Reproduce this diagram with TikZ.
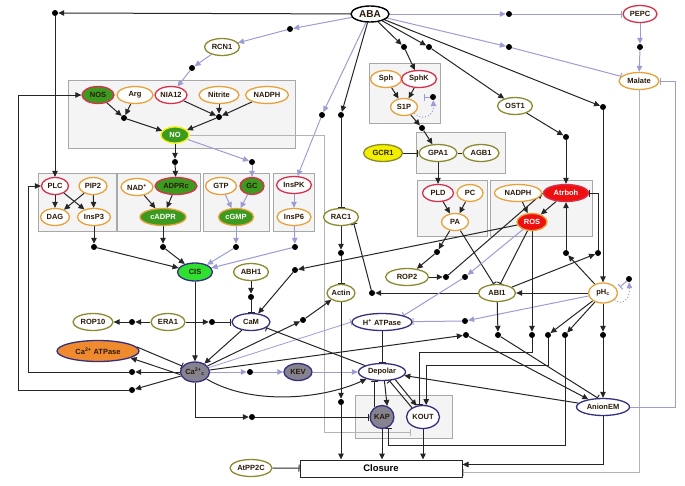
\documentclass[tikz,border=0pt]{standalone}
\usepackage{amsmath}
\usepackage{fontspec}
\setsansfont{Liberation Sans}
\usetikzlibrary{arrows.meta,shapes.geometric,calc}

\definecolor{olvc}{HTML}{8C8A2E}
\definecolor{orgc}{HTML}{E5A23A}
\definecolor{rddc}{HTML}{D8304A}
\definecolor{navc}{HTML}{35307E}
\definecolor{grnc}{HTML}{3C9A1E}
\definecolor{limc}{HTML}{30E030}
\definecolor{firec}{HTML}{EE1010}
\definecolor{gryf}{HTML}{85838F}
\definecolor{ambc}{HTML}{F08A2E}
\definecolor{yelc}{HTML}{F2EE00}
\definecolor{linc}{HTML}{252525}
\definecolor{lavc}{HTML}{9C9CD4}
\definecolor{gryc}{HTML}{B4B4B4}
\definecolor{boxc}{HTML}{A8A8A8}
\definecolor{boxf}{HTML}{F4F4F4}
\definecolor{labc}{HTML}{2A1A08}

\pgfdeclarelayer{back}
\pgfdeclarelayer{mid}
\pgfsetlayers{back,mid,main}

\tikzset{
  gene/.style={ellipse, draw=#1, line width=1.3pt, fill=white, text=labc,
    inner sep=0.5pt, minimum width=32pt, minimum height=17pt},
  olv/.style={gene=olvc},
  org/.style={gene=orgc},
  rdd/.style={gene=rddc},
  nav/.style={gene=navc},
  dot/.style={circle, fill=black, inner sep=0pt, minimum size=6pt},
  act/.style={draw=linc, line width=1pt, -{Triangle[length=6pt,width=5.5pt]}},
  inh/.style={draw=linc, line width=1pt, -{Bar[width=7pt]}},
  lact/.style={draw=lavc, line width=1pt, -{Triangle[length=6pt,width=5.5pt]}},
  linh/.style={draw=lavc, line width=1pt, -{Bar[width=7pt]}},
  ginh/.style={draw=gryc, line width=0.8pt, -{Bar[width=7pt]}},
  grp/.style={draw=boxc, fill=boxf, line width=0.8pt},
}

\begin{document}
\begin{tikzpicture}[x=1pt, y=-1pt,
  every node/.style={font=\sffamily\bfseries\fontsize{7.5}{8}\selectfont}]
\useasboundingbox (0,0) rectangle (685,485);

\begin{pgfonlayer}{back}
  \draw[grp] (68,80) rectangle (295,148);
  \draw[grp] (369,63) rectangle (440,123);
  \draw[grp] (416,132) rectangle (505,173);
  \draw[grp] (38,173) rectangle (116,231);
  \draw[grp] (117,173) rectangle (200,231);
  \draw[grp] (203,173) rectangle (269,231);
  \draw[grp] (273,173) rectangle (314,231);
  \draw[grp] (417,180) rectangle (487,236);
  \draw[grp] (490,180) rectangle (592,236);
  \draw[grp] (355,395) rectangle (452,438);
\end{pgfonlayer}

\node[gene=black, line width=1.4pt, minimum width=38pt, minimum height=16pt,
  font=\sffamily\bfseries\fontsize{10}{11}\selectfont] (ABA) at (370,14) {ABA};
\node[rdd, minimum width=34pt] (PEPC) at (640,14) {PEPC};
\node[org, minimum width=40pt] (Malate) at (639,81) {Malate};
\node[olv, minimum width=35pt] (RCN1) at (222,47) {RCN1};
\node[rdd, fill=grnc, minimum width=32pt] (NOS) at (98,95) {NOS};
\node[org, minimum width=36pt] (Arg) at (135,95) {Arg};
\node[rdd, minimum width=32pt] (NIA12) at (171,95) {NIA12};
\node[org, minimum width=40pt] (Nitrite) at (219,95) {Nitrite};
\node[org, minimum width=43pt] (NADPHa) at (267,95) {NADPH};
\node[gene=yelc, fill=grnc, text=white, minimum width=28pt, minimum height=16pt] (NO) at (175,135) {NO};
\node[org, minimum width=31pt] (Sph) at (386,79) {Sph};
\node[rdd, minimum width=35pt] (SphK) at (419,79) {SphK};
\node[org, minimum width=27pt] (S1P) at (404,107) {S1P};
\node[olv, minimum width=35pt] (OST1) at (515,106) {OST1};
\node[gene=olvc, fill=yelc, minimum width=39pt] (GCR1) at (383,153) {GCR1};
\node[olv, minimum width=38pt] (GPA1) at (438,153) {GPA1};
\node[olv, minimum width=36pt] (AGB1) at (481,153) {AGB1};
\node[rdd, minimum width=27pt] (PLC) at (55,186) {PLC};
\node[org, minimum width=28pt] (PIP2) at (93,186) {PIP2};
\node[org, minimum width=29pt] (DAG) at (55,217) {DAG};
\node[org, minimum width=33pt] (InsP3) at (94,217) {InsP3};
\node[org, minimum width=32pt] (NADp) at (137,187) {NAD\textsuperscript{+}};
\node[rdd, fill=grnc, minimum width=42pt] (ADPRc) at (176,186) {ADPRc};
\node[gene=orgc, fill=grnc, text=white, minimum width=46pt] (cADPR) at (163,217) {cADPR};
\node[org, minimum width=31pt] (GTP) at (221,186) {GTP};
\node[rdd, fill=grnc, minimum width=24pt] (GC) at (252,186) {GC};
\node[gene=orgc, fill=grnc, text=white, minimum width=35pt] (cGMP) at (236,217) {cGMP};
\node[rdd, minimum width=35pt] (InsPK) at (294,185) {InsPK};
\node[org, minimum width=34pt] (InsP6) at (294,217) {InsP6};
\node[olv, minimum width=35pt] (RAC1) at (341,217) {RAC1};
\node[rdd, minimum width=31pt] (PLD) at (438,193) {PLD};
\node[org, minimum width=26pt] (PC) at (470,193) {PC};
\node[org, minimum width=27pt] (PA) at (455,222) {PA};
\node[org, minimum width=47pt] (NADPHb) at (518,193) {NADPH};
\node[gene=rddc, fill=firec, text=white, minimum width=45pt] (Atrboh) at (566,193) {Atrboh};
\node[gene=orgc, fill=firec, text=white, minimum width=30pt] (ROS) at (532,222) {ROS};
\node[gene=navc, fill=limc, minimum width=35pt, minimum height=18pt] (CIS) at (195,272) {CIS};
\node[olv, minimum width=35pt] (ABH1) at (251,272) {ABH1};
\node[olv, minimum width=27pt] (Actin) at (341,293) {Actin};
\node[olv, minimum width=43pt] (ROP2) at (407,277) {ROP2};
\node[olv, minimum width=37pt] (ABI1) at (497,293) {ABI1};
\node[org, minimum width=29pt, minimum height=20pt] (pHc) at (603,293) {pH\textsubscript{c}};
\node[olv, minimum width=40pt] (ROP10) at (93,322) {ROP10};
\node[olv, minimum width=34pt] (ERA1) at (168,322) {ERA1};
\node[nav, minimum width=38pt] (CaM) at (251,322) {CaM};
\node[nav, minimum width=60pt] (HATP) at (382,322) {H\textsuperscript{+} ATPase};
\node[gene=navc, fill=ambc, minimum width=82pt, minimum height=21pt] (CaATP) at (98,351) {Ca\textsuperscript{2+} ATPase};
\node[gene=navc, fill=gryf, minimum width=29pt, minimum height=20pt] (Ca) at (195,372) {Ca\textsuperscript{2+}\textsubscript{c}};
\node[gene=navc, fill=gryf, minimum width=28pt] (KEV) at (298,372) {KEV};
\node[nav, minimum width=47pt] (Depolar) at (382,372) {Depolar};
\node[gene=navc, fill=gryf, minimum width=22pt, minimum height=23pt] (KAP) at (382,417) {KAP};
\node[nav, minimum width=33pt, minimum height=23pt] (KOUT) at (423,417) {KOUT};
\node[nav, minimum width=53pt] (AnionEM) at (603,407) {AnionEM};
\node[olv, minimum width=42pt] (AtPP2C) at (251,468) {AtPP2C};
\node[draw=linc, line width=1pt, minimum width=162pt, minimum height=17pt, inner sep=0pt,
  font=\sffamily\bfseries\fontsize{9.5}{10}\selectfont] (Closure) at (381,468.5) {Closure};

\node[dot] (d1) at (55,13) {};
\node[dot] (d2) at (290,29) {};
\node[dot] (d3) at (192,68) {};
\node[dot] (d4) at (322,115) {};
\node[dot] (d5) at (341,115) {};
\node[dot] (d6) at (404,47) {};
\node[dot] (d7) at (429,47) {};
\node[dot] (d8) at (603,107) {};
\node[dot] (d9) at (509,14) {};
\node[dot] (d10) at (509,47) {};
\node[dot] (d11) at (640,47) {};
\node[dot] (d12) at (566,137) {};
\node[dot] (d13) at (124,118) {};
\node[dot] (d14) at (219,117) {};
\node[dot] (d15) at (175,162) {};
\node[dot] (d16) at (252,162) {};
\node[dot] (d17) at (422,128) {};
\node[dot] (d18) at (433,97) {};
\node[dot] (d19) at (94,247) {};
\node[dot] (d20) at (163,247) {};
\node[dot] (d21) at (236,247) {};
\node[dot] (d22) at (295,247) {};
\node[dot] (d23) at (437,252) {};
\node[dot] (d24) at (446,277) {};
\node[dot] (d25) at (295,270) {};
\node[dot] (d26) at (341,253) {};
\node[dot] (d27) at (372,293) {};
\node[dot] (d28) at (465,277) {};
\node[dot] (d29) at (465,321) {};
\node[dot] (d30) at (566,253) {};
\node[dot] (d31) at (598,253) {};
\node[dot] (d32) at (251,297) {};
\node[dot] (d33) at (132,322) {};
\node[dot] (d34) at (212,322) {};
\node[dot] (d35) at (303,320) {};
\node[dot] (d36) at (466,335) {};
\node[dot] (d37) at (132,372) {};
\node[dot] (d38) at (132,390) {};
\node[dot] (d39) at (250,372) {};
\node[dot] (d40) at (252,417) {};
\node[dot] (d41) at (341,402) {};
\node[dot] (d42) at (498,335) {};
\node[dot] (d43) at (532,335) {};
\node[dot] (d44) at (548,335) {};
\node[dot] (d45) at (565,335) {};
\node[dot] (d46) at (603,335) {};
\node[dot] (d47) at (629,279) {};

\coordinate (gNO) at (324,432);
\coordinate (lx1) at (28,0);
\coordinate (lx2) at (18,0);
\coordinate (lvA) at (0,352);
\coordinate (lvB) at (0,365);
\coordinate (lvC) at (0,445);
\coordinate (rx) at (675,81);
\coordinate (cl1) at ($(Closure.east)+(0,-4)$);
\coordinate (cl2) at ($(Closure.east)+(0,4)$);
\coordinate (s1pbar) at (424,97);
\coordinate (phbar) at (620,287);

\begin{pgfonlayer}{mid}
  \draw[act] (ABA) -- (d1);
  \draw[act] (d1) -- (PLC);
  \draw[lact] (ABA) -- (d2);
  \draw[lact] (d2) -- (RCN1);
  \draw[lact] (RCN1) -- (d3);
  \draw[lact] (d3) -- (NIA12);
  \draw[lact] (ABA) -- (d4);
  \draw[lact] (d4) -- (InsPK);
  \draw[act] (ABA) -- (d5);
  \draw[inh] (d5) -- (RAC1);
  \draw[act] (ABA) -- (d6);
  \draw[act] (d6) -- (SphK);
  \draw[act] (ABA) -- (d7);
  \draw[act] (d7) -- (OST1);
  \draw[act] (ABA) -- (d8);
  \draw[act] (d8) -- (pHc);
  \draw[lact] (ABA) -- (d9);
  \draw[linh] (d9) -- (PEPC);
  \draw[lact] (ABA) -- (d10);
  \draw[linh] (d10) -- (Malate);
  \draw[lact] (PEPC) -- (d11);
  \draw[lact] (d11) -- (Malate);
  \draw[act] (OST1) -- (d12);
  \draw[act] (d12) -- (Atrboh);

  \draw[act] (NOS) -- (d13);
  \draw[act] (Arg) -- (d13);
  \draw[act] (d13) -- (NO);
  \draw[act] (NIA12) -- (d14);
  \draw[act] (Nitrite) -- (d14);
  \draw[act] (NADPHa) -- (d14);
  \draw[act] (d14) -- (NO);
  \draw[act] (NO) -- (d15);
  \draw[act] (d15) -- (ADPRc);
  \draw[lact] (NO) -- (d16);
  \draw[lact] (d16) -- (GC);
  \draw[ginh] (NO) -| (gNO) -- (gNO -| KOUT.south west);

  \draw[act] (Sph) -- (S1P);
  \draw[act] (SphK) -- (S1P);
  \draw[act] (S1P) -- (d17);
  \draw[act] (d17) -- (GPA1);
  \draw[draw=lavc, line width=1pt, dotted, -{Triangle[length=6pt,width=5.5pt]}]
    (S1P.south east) .. controls (425,122) and (434,114) .. (d18);
  \draw[linh] (d18) -- (s1pbar);
  \draw[inh] (GCR1) -- (GPA1);
  \draw[draw=linc, line width=1pt] (GPA1) -- (AGB1);
  \draw[act] (GPA1) -- (PLD);

  \draw[act] (PLC) -- (DAG);
  \draw[act] (PLC) -- (InsP3);
  \draw[act] (PIP2) -- (DAG);
  \draw[act] (PIP2) -- (InsP3);
  \draw[act] (NADp) -- (cADPR);
  \draw[act] (ADPRc) -- (cADPR);
  \draw[lact] (GTP) -- (cGMP);
  \draw[lact] (GC) -- (cGMP);
  \draw[lact] (InsPK) -- (InsP6);
  \draw[act] (InsP3) -- (d19);
  \draw[act] (d19) -- (CIS);
  \draw[act] (cADPR) -- (d20);
  \draw[act] (d20) -- (CIS);
  \draw[lact] (cGMP) -- (d21);
  \draw[lact] (d21) -- (CIS);
  \draw[lact] (InsP6) -- (d22);
  \draw[lact] (d22) -- (CIS);

  \draw[act] (PLD) -- (PA);
  \draw[act] (PC) -- (PA);
  \draw[act] (PA) -- (d23);
  \draw[act] (d23) -- (ROP2);
  \draw[inh] (PA) -- (ABI1.110);
  \draw[inh] (ROS) -- (ABI1.70);
  \draw[act] (NADPHb) -- (ROS);
  \draw[act] (Atrboh) -- (ROS);
  \draw[act] (ROP2) -- (d24);
  \draw[act] (d24) -- (Atrboh.west);
  \draw[act] (ROS) -- (d25);
  \draw[act] (d25) -- (CaM);
  \draw[act] (RAC1) -- (d26);
  \draw[inh] (d26) -- (Actin);
  \draw[act] (ABI1) -- (d27);
  \draw[inh] (d27) -- (RAC1.south east);
  \draw[lact] (ROS) -- (d28);
  \draw[linh] (d28) -- (HATP.north east);
  \draw[lact] (pHc) -- (d29);
  \draw[linh] (d29) -- (HATP);
  \draw[act] (pHc) -- (d30);
  \draw[act] (d30) -- (Atrboh);
  \draw[act] (ABI1) -- (d31);
  \draw[inh] (d31) |- (Atrboh.east);
  \draw[act] (pHc) -- (ABI1);
  \draw[draw=lavc, line width=1pt, dotted, -{Triangle[length=6pt,width=5.5pt]}]
    (pHc.-30) .. controls (622,306) and (630,300) .. (d47);
  \draw[linh] (d47) -- (phbar);

  \draw[act] (ABH1) -- (d32);
  \draw[inh] (d32) -- (CaM);
  \draw[act] (ERA1) -- (d33);
  \draw[act] (d33) -- (ROP10);
  \draw[act] (ERA1) -- (d34);
  \draw[inh] (d34) -- (CaM);
  \draw[act] (CIS) -- (Ca);
  \draw[act] (CaM) -- (Ca);
  \draw[act] (Ca) -- (d35);
  \draw[act] (d35) -- (Actin);
  \draw[draw=lavc, line width=0.8pt, -{Bar[width=7pt]}] (Ca) -- (HATP.west);
  \draw[act] (Ca) -- (d36);
  \draw[act] (d36) -- (AnionEM);
  \draw[inh] (Depolar) -- (CaM);
  \draw[act] (Ca) .. controls (250,405) and (320,400) .. (Depolar);
  \draw[act] (Ca.190) -- (CaATP.-12);
  \draw[inh] (CaATP.6) -- (Ca.155);
  \draw[act] (Ca) -- (d37);
  \draw[act] (d37) -- (d37 -| lx1) |- (PLC);
  \draw[act] (Ca) -- (d38);
  \draw[act] (d38) -- (d38 -| lx2) |- (NOS);
  \draw[lact] (Ca) -- (d39);
  \draw[lact] (d39) -- (KEV);
  \draw[lact] (KEV) -- (Depolar);
  \draw[act] (Ca) |- (d40);
  \draw[inh] (d40) -- (KAP);

  \draw[inh] (HATP) -- (Depolar);
  \draw[act] (Depolar.-75) -- (KAP.65);
  \draw[inh] (KAP.125) -- (KAP.125 |- Depolar.south);
  \draw[act] (Depolar.-30) -- (KOUT.120);
  \draw[inh] (KOUT.140) -- (Depolar.-50);
  \draw[act] (KAP) -- (KAP |- Closure.north);
  \draw[act] (KOUT) -- (KOUT |- Closure.north);
  \draw[act] (Actin) -- (d41);
  \draw[act] (d41) -- (d41 |- Closure.north);

  \draw[act] (ABI1) -- (d42);
  \draw[inh] (d42) -- (AnionEM.120);
  \draw[act] (ROS) -- (d43);
  \draw[inh] (d43) -- (d43 |- lvA) -| (KOUT.105);
  \draw[act] (pHc) -- (d44);
  \draw[act] (d44) -- (d44 |- lvB) -| (KOUT.75);
  \draw[act] (pHc) -- (d45);
  \draw[inh] (d45) -- (d45 |- lvC) -| (KAP.-60);
  \draw[act] (pHc) -- (d46);
  \draw[act] (d46) -- (AnionEM);
  \draw[act] (AnionEM) -- (Depolar);
  \draw[act] (AnionEM) |- (cl1);
  \draw[ginh] (Malate) |- (cl2);
  \draw[linh] (AnionEM) -| (rx) -- (Malate);
  \draw[inh] (AtPP2C) -- (Closure);
\end{pgfonlayer}
\end{tikzpicture}
\end{document}
